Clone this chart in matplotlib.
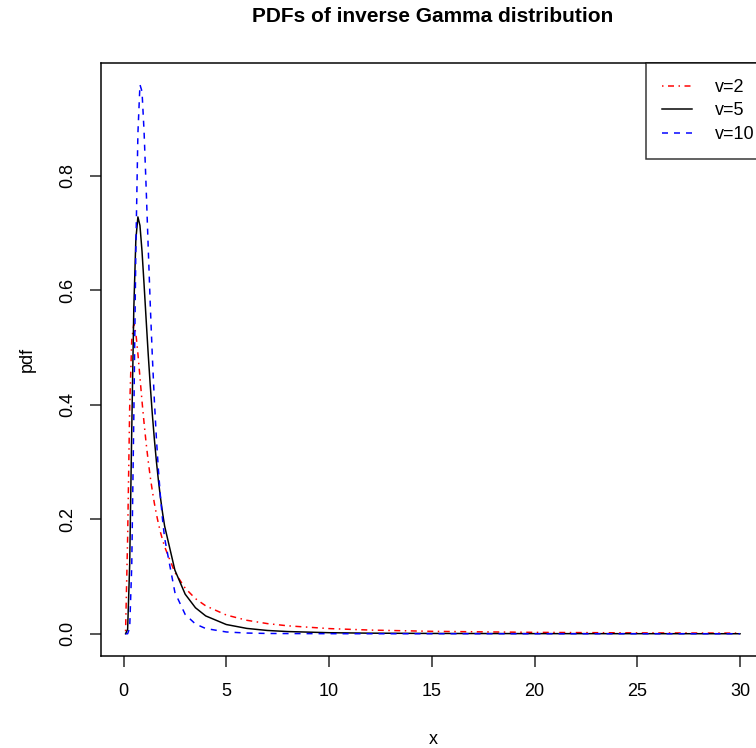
import matplotlib
matplotlib.use("Agg")
import matplotlib.pyplot as plt

plt.rcParams['font.family'] = ['Liberation Sans', 'DejaVu Sans']

# x grid and pdf values (one list per curve)
xs = [0.1, 0.2, 0.3, 0.4, 0.5, 0.6, 0.7, 0.8, 0.9, 1.0,
      1.1, 1.2, 1.3, 1.4, 1.5, 1.6, 1.7, 1.8, 1.9, 2.0,
      2.5, 3, 3.5, 4, 5, 6, 7, 8, 10, 12, 15, 20, 25, 30]
pdf_v2 = [0.0045, 0.168, 0.396, 0.513, 0.541, 0.525, 0.489, 0.448, 0.406, 0.368,
          0.333, 0.302, 0.274, 0.250, 0.228, 0.209, 0.192, 0.177, 0.164, 0.152,
          0.107, 0.0796, 0.0613, 0.0487, 0.0327, 0.0235, 0.0177, 0.0138, 0.0090, 0.0064,
          0.0042, 0.0024, 0.0015, 0.0011]
pdf_v5 = [0.0, 0.0077, 0.121, 0.355, 0.567, 0.689, 0.728, 0.713, 0.668, 0.610,
          0.549, 0.489, 0.434, 0.384, 0.340, 0.301, 0.267, 0.237, 0.211, 0.188,
          0.111, 0.0691, 0.0454, 0.0311, 0.0161, 0.0093, 0.0057, 0.0038, 0.0018, 0.0010,
          0.0005, 0.0002, 0.0001, 0.0]
pdf_v10 = [0.0, 0.0, 0.0103, 0.119, 0.378, 0.671, 0.874, 0.959, 0.947, 0.877,
           0.780, 0.676, 0.576, 0.486, 0.408, 0.341, 0.285, 0.238, 0.199, 0.167,
           0.0722, 0.0337, 0.0170, 0.0091, 0.0031, 0.0012, 0.0005, 0.0003, 0.0001, 0.0,
           0.0, 0.0, 0.0, 0.0]
labels = ["v=2", "v=5", "v=10"]
xticks = [0, 5, 10, 15, 20, 25, 30]
yticks = [0.0, 0.2, 0.4, 0.6, 0.8]

W, H = 756, 748
fig = plt.figure(figsize=(W / 100, H / 100), dpi=100)
# plot box in pixels: left 101, right 764.6 (runs past the edge), top 62.7, bottom 655.7
ax = fig.add_axes([101 / W, 1 - 655.7 / H, 663.6 / W, 593 / H])

lw = 1.08
ax.plot(xs, pdf_v2, color="#FF0000", lw=lw, dashes=(1, 3, 4, 3), label=labels[0])
ax.plot(xs, pdf_v5, color="black", lw=lw, label=labels[1])
ax.plot(xs, pdf_v10, color="#0000FF", lw=lw, dashes=(4, 4), label=labels[2])

ax.margins(x=0.04, y=0.04)  # R style 4% padding
ax.set_xticks(xticks)
ax.set_yticks(yticks)
ax.set_xticklabels([str(t) for t in xticks])
ax.set_yticklabels(["%.1f" % t for t in yticks])
ax.tick_params(axis='both', direction='out', length=7.9, width=lw, labelsize=13, color='#222222')
ax.tick_params(axis='x', pad=12)
ax.tick_params(axis='y', pad=10, labelrotation=90)
for t in ax.get_yticklabels():
    t.set_va('center')
for s in ax.spines.values():
    s.set_linewidth(lw)

# legend box starts at x=646 px and runs off the right edge, like the original
leg = ax.legend(loc='upper left', bbox_to_anchor=((646 - 101) / 663.6, 1), borderaxespad=0,
                fontsize=13, frameon=True, fancybox=False, edgecolor='black',
                handlelength=1.66, handletextpad=1.27, borderpad=0.9, labelspacing=0.36)
leg.get_frame().set_linewidth(lw)

cx = (101 + 663.6 / 2) / W
fig.text(cx, 1 - 17 / H, "PDFs of inverse Gamma distribution", ha='center', va='center',
         fontsize=15, fontweight='bold')
fig.text(cx, 1 - 740 / H, "x", ha='center', va='center', fontsize=13)
fig.text(27 / W, 1 - 359 / H, "pdf", ha='center', va='center', rotation=90, fontsize=13)

fig.savefig("out.png", dpi=100)
